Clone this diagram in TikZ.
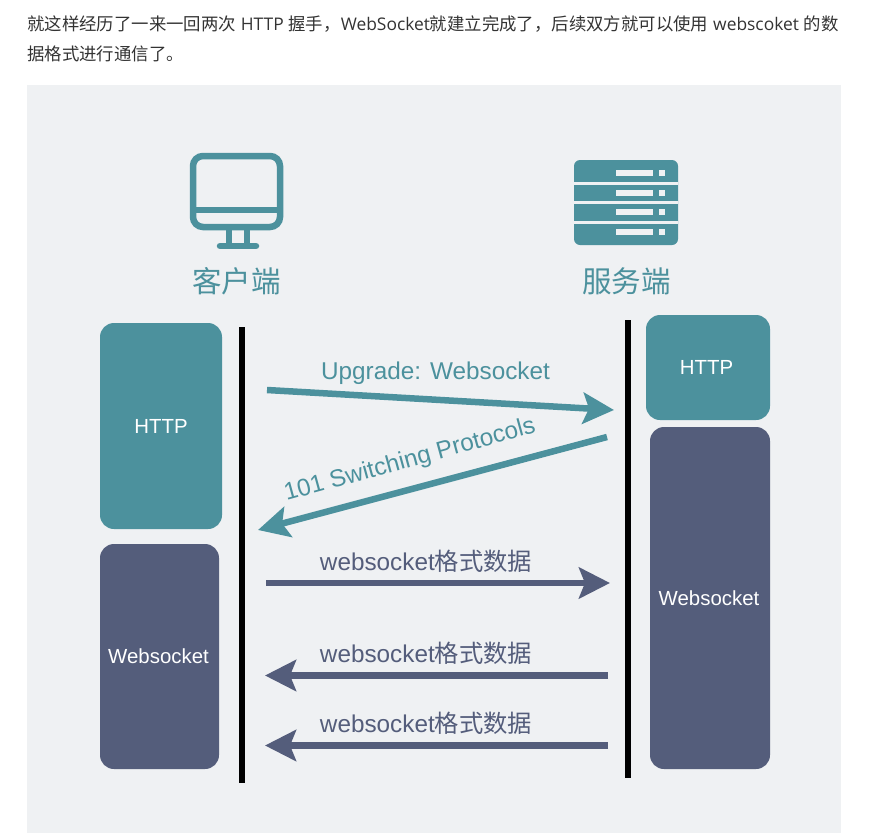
\documentclass[tikz,border=0pt]{standalone}
\usepackage{fontspec}
\setmainfont{Liberation Sans}
\newfontfamily\cjk{Noto Sans CJK SC}
\newfontfamily\para{Open Sans}
\usetikzlibrary{arrows.meta}
\definecolor{teal1}{HTML}{4C919D}
\definecolor{slate1}{HTML}{545D7B}
\definecolor{panel1}{HTML}{EFF1F3}
\definecolor{para1}{HTML}{333333}
\newcommand{\fmtlabel}{websocket{\cjk 格式数据}}
\begin{document}
\begin{tikzpicture}[
    x=1pt, y=-1pt,
    box/.style={rectangle, rounded corners=14pt, text=white, font=\fontsize{20.4}{24}\selectfont},
    httpbox/.style={box, fill=teal1},
    wsbox/.style={box, fill=slate1},
    bar/.style={line width=6pt, black},
    arrow/.style={-{Stealth[length=31pt, width=31pt, inset=6pt]}, line width=6.5pt},
    msg/.style={font=\fontsize{24.3}{28}\selectfont},
    title/.style={text=teal1, font=\cjk\fontsize{29.5}{34}\selectfont},
    parline/.style={anchor=west, inner sep=0pt, text=para1, font=\fontsize{17.4}{22}\selectfont}
]
    \useasboundingbox (0,0) rectangle (887,833);

    % Paragraph
    \node[parline] (line1) at (27,24) {{\cjk 就这样经历了一来一回两次} {\para HTTP} {\cjk 握手，}{\para WebSocket}{\cjk 就建立完成了，后续双方就可以使用} {\para webscoket} {\cjk 的数}};
    \node[parline] (line2) at (27,54) {{\cjk 据格式进行通信了。}};

    % Panel
    \fill[panel1] (27,85) rectangle (841,833);

    % Client icon
    \draw[teal1, line width=6.5pt, rounded corners=10pt] (193,156) rectangle (280,227);
    \draw[teal1, line width=6.5pt] (193,210) -- (280,210);
    \draw[teal1, line width=6.5pt] (229,228) -- (229,245);
    \draw[teal1, line width=6.5pt] (247,228) -- (247,245);
    \draw[teal1, line width=6.5pt, line cap=round] (220,246) -- (256,246);
    \node[title] (client) at (236.5,281) {客户端};

    % Server icon
    \fill[teal1, rounded corners=6pt] (574,160) rectangle (678,245);
    \foreach \y in {183,202.5,222} {
        \fill[panel1] (574,\y-1.5) rectangle (678,\y+1.5);
    }
    \foreach \y in {173,193,212,231.5} {
        \fill[panel1] (616,\y-3) rectangle (653,\y+3);
        \fill[panel1] (659,\y-3) rectangle (665,\y+3);
    }
    \node[title] (server) at (626.5,281) {服务端};

    % Protocol stacks
    \node[httpbox, minimum width=122pt, minimum height=206pt] (chttp) at (161,426) {HTTP};
    \node[wsbox, minimum width=119pt, minimum height=225pt] (cws) at (159.5,656.5) {Websocket\kern2pt};
    \node[httpbox, minimum width=124pt, minimum height=105pt] (shttp) at (708,367.5) {HTTP\kern3pt};
    \node[wsbox, minimum width=120pt, minimum height=342pt] (sws) at (710,598) {Websocket\kern2pt};

    % Timelines
    \coordinate (ctop) at (242,327);
    \coordinate (cend) at (242,783);
    \coordinate (stop) at (628,320);
    \coordinate (send) at (628,778);
    \draw[bar] (ctop) -- (cend);
    \draw[bar] (stop) -- (send);

    % Arrow ends
    \coordinate (a1) at (267,390);
    \coordinate (b1) at (614,410);
    \coordinate (a2) at (607,437);
    \coordinate (b2) at (258,530);
    \coordinate (a3) at (266,583);
    \coordinate (b3) at (610,583);
    \coordinate (a4) at (608,675.5);
    \coordinate (b4) at (265,675.5);
    \coordinate (a5) at (608,745.5);
    \coordinate (b5) at (265,745.5);

    % Arrows
    \draw[arrow, teal1] (a1) -- (b1);
    \draw[arrow, teal1] (a2) -- (b2);
    \draw[arrow, slate1] (a3) -- (b3);
    \draw[arrow, slate1] (a4) -- (b4);
    \draw[arrow, slate1] (a5) -- (b5);

    % Labels
    \node[msg, text=teal1] (upgrade) at (435.5,373) {Upgrade: Websocket};
    \node[msg, text=teal1, rotate=15.4] (switching) at (410,460.5) {101 Switching Protocols};
    \node[msg, text=slate1] (data1) at (426,561) {\fmtlabel};
    \node[msg, text=slate1] (data2) at (426,653) {\fmtlabel};
    \node[msg, text=slate1] (data3) at (426,723) {\fmtlabel};
\end{tikzpicture}
\end{document}
